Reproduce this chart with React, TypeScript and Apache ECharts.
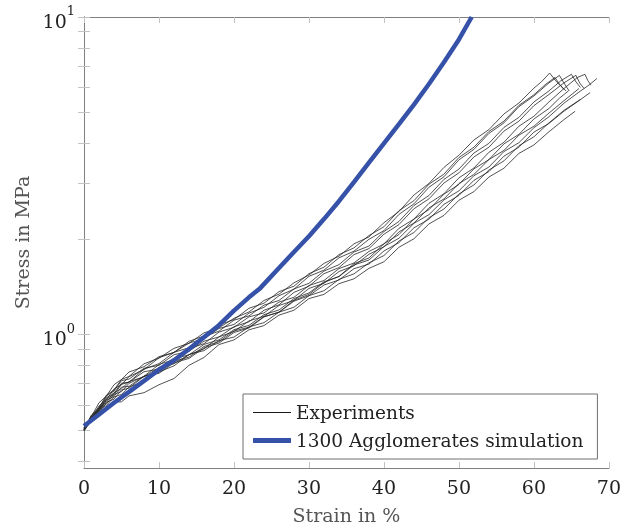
import React, { useEffect, useRef } from 'react';
import * as echarts from 'echarts';

// ---------- data ----------
const strainGrid = [0, 1, 2, 3, 4, 5, 6, 8, 10, 12, 14, 16, 18, 20, 22, 24, 26, 28, 30, 32, 34, 36, 38, 40, 42, 44, 46, 48, 50, 52, 54, 56, 58, 60];

const exp1 = [0.502, 0.558, 0.589, 0.645, 0.669, 0.722, 0.738, 0.809, 0.843, 0.905, 0.938, 1.012, 1.05, 1.125, 1.178, 1.28, 1.34, 1.455, 1.54, 1.675, 1.765, 1.93, 2.03, 2.25, 2.44, 2.75, 2.99, 3.36, 3.67, 4.10, 4.42, 4.95, 5.36, 5.97];
const exp1End = [[61, 6.25], [62.1, 6.66], [62.9, 6.3], [63.6, 6.05], [64.3, 5.85]];
const exp2 = [0.508, 0.545, 0.596, 0.624, 0.674, 0.695, 0.737, 0.776, 0.845, 0.879, 0.952, 0.99, 1.072, 1.115, 1.21, 1.255, 1.365, 1.42, 1.555, 1.63, 1.785, 1.875, 2.05, 2.185, 2.455, 2.64, 2.975, 3.20, 3.61, 3.89, 4.36, 4.70, 5.27, 5.69];
const exp2End = [[61.5, 6.12], [62.8, 6.45], [63.4, 6.15], [64.0, 5.92]];
const exp3 = [0.51, 0.552, 0.61, 0.641, 0.695, 0.722, 0.762, 0.792, 0.852, 0.878, 0.94, 0.971, 1.045, 1.076, 1.168, 1.218, 1.325, 1.39, 1.525, 1.595, 1.745, 1.83, 1.995, 2.125, 2.39, 2.58, 2.91, 3.14, 3.55, 3.83, 4.30, 4.64, 5.22, 5.64];
const exp3End = [[62, 6.2], [63.4, 6.55], [64.0, 6.2], [64.7, 5.85]];
const exp4 = [0.50, 0.549, 0.575, 0.628, 0.647, 0.697, 0.708, 0.778, 0.81, 0.879, 0.909, 0.985, 1.025, 1.11, 1.145, 1.238, 1.28, 1.392, 1.45, 1.585, 1.66, 1.82, 1.90, 2.11, 2.27, 2.55, 2.74, 3.08, 3.32, 3.73, 4.00, 4.49, 4.83, 5.40];
const exp4End = [[62, 5.85], [63.6, 6.3], [65.0, 6.6], [65.6, 6.25], [66.2, 6.0]];
const exp5 = [0.503, 0.556, 0.585, 0.641, 0.664, 0.716, 0.724, 0.783, 0.80, 0.864, 0.886, 0.953, 0.983, 1.058, 1.097, 1.193, 1.24, 1.358, 1.42, 1.555, 1.625, 1.785, 1.865, 2.07, 2.22, 2.49, 2.675, 3.00, 3.23, 3.625, 3.89, 4.37, 4.70, 5.26];
const exp5End = [[62, 5.7], [64, 6.2], [65.6, 6.55], [66.1, 6.2], [66.7, 5.95]];
const exp6 = [0.507, 0.538, 0.584, 0.605, 0.648, 0.661, 0.702, 0.739, 0.805, 0.834, 0.903, 0.936, 1.018, 1.054, 1.137, 1.17, 1.265, 1.31, 1.427, 1.48, 1.613, 1.68, 1.827, 1.928, 2.16, 2.31, 2.59, 2.775, 3.115, 3.345, 3.75, 4.03, 4.53, 4.87];
const exp6End = [[62, 5.4], [64, 5.95], [65.8, 6.45], [66.8, 6.6], [67.2, 6.3], [67.6, 6.1]];
const exp7 = [0.501, 0.554, 0.581, 0.633, 0.653, 0.703, 0.708, 0.764, 0.778, 0.84, 0.863, 0.931, 0.962, 1.036, 1.069, 1.155, 1.195, 1.298, 1.352, 1.466, 1.522, 1.657, 1.716, 1.893, 2.01, 2.24, 2.385, 2.655, 2.835, 3.165, 3.37, 3.77, 4.02, 4.48];
const exp7End = [[62, 4.85], [64, 5.35], [66, 5.8], [67.4, 6.12], [68.4, 6.4]];
const exp8 = [0.498, 0.544, 0.566, 0.612, 0.626, 0.669, 0.678, 0.739, 0.762, 0.824, 0.849, 0.917, 0.95, 1.026, 1.055, 1.139, 1.175, 1.274, 1.325, 1.432, 1.485, 1.612, 1.667, 1.833, 1.947, 2.168, 2.308, 2.57, 2.742, 3.06, 3.26, 3.645, 3.89, 4.34];
const exp8End = [[62, 4.62], [64, 5.05], [66, 5.45], [67.5, 5.78]];
const exp9 = [0.506, 0.541, 0.588, 0.613, 0.657, 0.675, 0.711, 0.736, 0.788, 0.809, 0.866, 0.89, 0.957, 0.982, 1.057, 1.09, 1.176, 1.219, 1.326, 1.374, 1.492, 1.553, 1.682, 1.773, 1.97, 2.096, 2.334, 2.485, 2.772, 2.96, 3.297, 3.523, 3.934, 4.195];
const exp9End = [[62, 4.64], [64, 5.08], [66.2, 5.5]];
const exp10 = [0.503, 0.534, 0.571, 0.584, 0.613, 0.614, 0.641, 0.656, 0.695, 0.727, 0.80, 0.847, 0.93, 0.962, 1.035, 1.067, 1.151, 1.193, 1.298, 1.338, 1.446, 1.498, 1.616, 1.695, 1.883, 2.003, 2.23, 2.373, 2.648, 2.82, 3.134, 3.34, 3.72, 3.955];
const exp10End = [[62, 4.35], [64, 4.75], [65.5, 5.05]];
const exp11 = [0.504, 0.551, 0.574, 0.622, 0.638, 0.683, 0.687, 0.74, 0.755, 0.815, 0.841, 0.908, 0.94, 1.015, 1.049, 1.136, 1.177, 1.282, 1.338, 1.458, 1.525, 1.671, 1.742, 1.932, 2.065, 2.31, 2.473, 2.768, 2.97, 3.325, 3.556, 3.985, 4.27, 4.775];
const exp11End = [[62, 5.15], [63.4, 5.55], [64.6, 5.85]];
const exp12 = [0.497, 0.536, 0.579, 0.598, 0.636, 0.648, 0.684, 0.711, 0.763, 0.797, 0.864, 0.901, 0.983, 1.023, 1.104, 1.141, 1.234, 1.281, 1.397, 1.45, 1.579, 1.647, 1.789, 1.89, 2.104, 2.245, 2.505, 2.673, 2.99, 3.193, 3.557, 3.80, 4.245, 4.53];
const exp12End = [[62, 4.98], [64, 5.45], [66.0, 5.95]];

const simStrain = [0, 2, 4, 6, 8, 10, 12, 14, 16, 18, 20, 22, 23.5, 26, 28, 30, 32, 34, 36, 38, 40, 42, 44, 46, 48, 50, 51.7];
const simStress = [0.515, 0.56, 0.61, 0.66, 0.715, 0.775, 0.83, 0.90, 0.98, 1.07, 1.19, 1.31, 1.40, 1.62, 1.82, 2.04, 2.31, 2.63, 3.02, 3.48, 4.0, 4.6, 5.3, 6.15, 7.2, 8.5, 10];

const yTickValues = [0.4, 0.5, 0.6, 0.7, 0.8, 0.9, 1, 2, 3, 4, 5, 6, 7, 8, 9, 10];
const yLabelValues = [1, 10];

const EXP_NAME = 'Experiments';
const SIM_NAME = '1300 Agglomerates simulation';

// ---------- style ----------
const FONT = "'DejaVu Serif', serif";
const BLUE = '#3552a8';
const AXIS_COLOR = '#7f7f7f';
const TICK_COLOR = '#c2c2c2';

const experiments: [number[], number[][]][] = [
  [exp1, exp1End], [exp2, exp2End], [exp3, exp3End], [exp4, exp4End],
  [exp5, exp5End], [exp6, exp6End], [exp7, exp7End], [exp8, exp8End],
  [exp9, exp9End], [exp10, exp10End], [exp11, exp11End], [exp12, exp12End],
];

export default function App() {
  const ref = useRef<HTMLDivElement>(null);
  useEffect(() => {
    if (!ref.current) return;
    const chart = echarts.init(ref.current, null, { renderer: 'svg' });

    const expSeries = experiments.map(([vals, tail]) => ({
      name: EXP_NAME,
      type: 'line',
      data: strainGrid.map((x, i) => [x, vals[i]]).concat(tail),
      symbol: 'none',
      showSymbol: false,
      silent: true,
      lineStyle: { color: '#262626', width: 0.8 },
      itemStyle: { color: '#262626' },
      z: 2,
    }));

    const simSeries = {
      name: SIM_NAME,
      type: 'line',
      data: simStrain.map((x, i) => [x, simStress[i]]),
      symbol: 'none',
      showSymbol: false,
      silent: true,
      lineStyle: { color: BLUE, width: 4.5 },
      itemStyle: { color: BLUE },
      z: 3,
    };

    const xCommon = {
      type: 'value',
      min: 0,
      max: 70,
      interval: 10,
      axisLine: { show: true, lineStyle: { color: AXIS_COLOR, width: 1 } },
      axisTick: { show: true, inside: true, length: 6, lineStyle: { color: TICK_COLOR, width: 1 } },
      splitLine: { show: false },
    };

    const yCommon = {
      type: 'log',
      logBase: 10,
      min: 0.38,
      max: 10,
      axisLine: { show: true, lineStyle: { color: AXIS_COLOR, width: 1 } },
      axisTick: { show: true, inside: true, length: 6, customValues: yTickValues, lineStyle: { color: TICK_COLOR, width: 1 } },
      splitLine: { show: false },
      minorTick: { show: false },
    };

    chart.setOption({
      animation: false,
      textStyle: { fontFamily: FONT },
      grid: { left: 84, right: 12, top: 17, bottom: 58, containLabel: false },
      legend: {
        orient: 'vertical',
        left: 243,
        top: 394,
        padding: [9, 14, 9, 10],
        itemGap: 9,
        itemWidth: 38,
        itemHeight: 14,
        borderColor: '#6e6e6e',
        borderWidth: 1,
        backgroundColor: '#ffffff',
        selectedMode: false,
        textStyle: { fontFamily: FONT, fontSize: 18.5, color: '#222', lineHeight: 19 },
        data: [
          { name: EXP_NAME, icon: 'path://M0,0h38v1h-38z', itemStyle: { color: '#1a1a1a' } },
          { name: SIM_NAME, icon: 'path://M0,0h38v5h-38z', itemStyle: { color: BLUE } },
        ],
      },
      xAxis: [
        {
          ...xCommon,
          position: 'bottom',
          name: 'Strain in %',
          nameLocation: 'middle',
          nameGap: 37,
          nameTextStyle: { fontFamily: FONT, fontSize: 19, color: '#555' },
          axisLabel: { show: true, fontFamily: FONT, fontSize: 19, color: '#222', margin: 9 },
        },
        {
          ...xCommon,
          position: 'top',
          axisLabel: { show: false },
        },
      ],
      yAxis: [
        {
          ...yCommon,
          position: 'left',
          name: 'Stress in MPa',
          nameLocation: 'middle',
          nameGap: 49,
          nameTextStyle: { fontFamily: FONT, fontSize: 19, color: '#555' },
          axisLabel: {
            show: true,
            customValues: yLabelValues,
            margin: 9,
            formatter: (v: number) => `{b|10}{s|${Math.round(Math.log10(v))}}`,
            rich: {
              b: { fontFamily: FONT, fontSize: 19, color: '#222', lineHeight: 26, verticalAlign: 'bottom' },
              s: { fontFamily: FONT, fontSize: 13, color: '#222', lineHeight: 14, verticalAlign: 'top' },
            },
          },
        },
        {
          ...yCommon,
          position: 'right',
          axisLabel: { show: false },
        },
      ],
      series: [...expSeries, simSeries],
    });

    return () => chart.dispose();
  }, []);

  return <div ref={ref} style={{ position: 'fixed', left: 0, top: 0, width: 624, height: 529 }} />;
}
